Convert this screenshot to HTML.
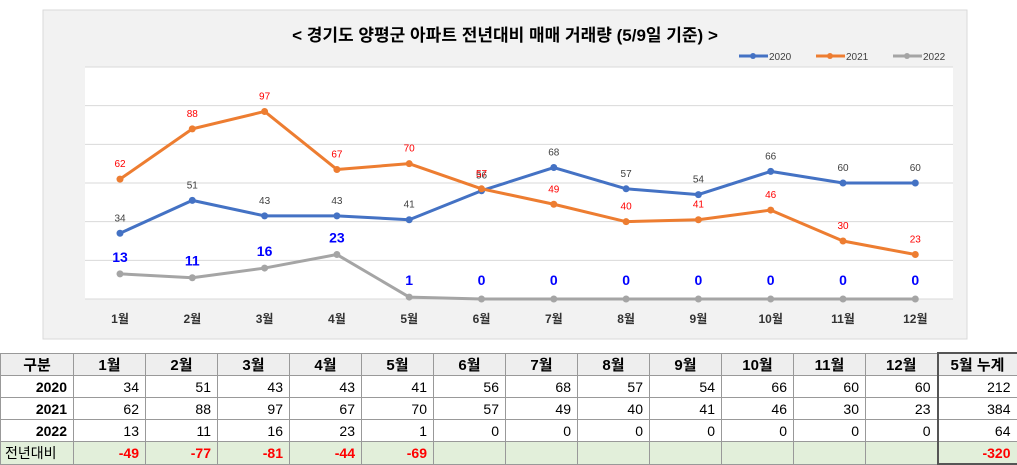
<!DOCTYPE html>
<html><head><meta charset="utf-8"><style>
body{margin:0;width:1017px;height:465px;background:#fff;font-family:"Liberation Sans","Noto Sans CJK KR",sans-serif;position:relative;overflow:hidden}
#chart{position:absolute;left:0;top:0}
table{position:absolute;left:0;top:352px;border-collapse:collapse;font-size:14px;table-layout:fixed;width:1017px}
td{border:1px solid #999;height:21px;padding:0 6px 0 0;text-align:right;overflow:hidden;white-space:nowrap}
tr.h td{background:#eee;font-weight:bold;text-align:center;padding:0;font-size:15px}
td.l{font-weight:bold}
tr.d td{background:#e2efda;color:#f00;font-weight:bold}
tr.d td.l{color:#000;font-weight:normal;text-align:left;padding-left:4px}
td.s{border-left:2px solid #555;border-right:2px solid #555}
tr.d td.s{border-bottom:2px solid #555}
tr.h td.s{border-top:2px solid #555}
</style></head><body>
<svg id="chart" width="1017" height="350"></svg>
<table id="tbl"><colgroup><col style="width:73px"><col style="width:72px"><col style="width:72px"><col style="width:72px"><col style="width:72px"><col style="width:72px"><col style="width:72px"><col style="width:72px"><col style="width:72px"><col style="width:72px"><col style="width:72px"><col style="width:72px"><col style="width:72px"><col style="width:80px"></colgroup></table>
<script>
const months=["1월","2월","3월","4월","5월","6월","7월","8월","9월","10월","11월","12월"];
const s2020=[34,51,43,43,41,56,68,57,54,66,60,60];
const s2021=[62,88,97,67,70,57,49,40,41,46,30,23];
const s2022=[13,11,16,23,1,0,0,0,0,0,0,0];
const diff=[-49,-77,-81,-44,-69];
const totals=[212,384,64,-320];
const yTicks=[0,20,40,60,80,100,120];
const NS="http://www.w3.org/2000/svg";
const svg=document.getElementById('chart');
function x(i){return 120+i*72.3}
function y(v){return 299-v*(232/120)}
function mk(t,a,p){const e=document.createElementNS(NS,t);for(const k in a)e.setAttribute(k,a[k]);(p||svg).appendChild(e);return e}
let bg=mk('rect',{x:43,y:10,width:924,height:329,fill:'#f2f2f2',stroke:'#d9d9d9'});

let pa=mk('rect',{x:85,y:67,width:868,height:232,fill:'#fff'});

yTicks.forEach(v=>{let g=mk('line',{x1:85,x2:953,y1:y(v),y2:y(v),stroke:'#d9d9d9','stroke-width':1});
});
let tt=mk('text',{x:505,y:41,'text-anchor':'middle','font-size':17,'font-weight':'bold',fill:'#000'});
tt.textContent='< 경기도 양평군  아파트 전년대비 매매 거래량 (5/9일 기준) >';

months.forEach((m,i)=>{let t=mk('text',{x:x(i),y:323,'text-anchor':'middle','font-size':12,'font-weight':'bold',fill:'#333'});t.textContent=m;
});
const series=[[s2020,'#4472c4','2020',739],[s2021,'#ed7d31','2021',816],[s2022,'#a5a5a5','2022',893]];
series.forEach(([d,c,n,lx],si)=>{
 let p=mk('polyline',{points:d.map((v,i)=>x(i)+','+y(v)).join(' '),fill:'none',stroke:c,'stroke-width':3,'stroke-linejoin':'round'});
 
 d.forEach((v,i)=>{let m=mk('circle',{cx:x(i),cy:y(v),r:3.5,fill:c});
  
  let lbl;
  if(si==2){lbl=mk('text',{x:x(i),y:y(v)-12,'text-anchor':'middle','font-size':14,'font-weight':'bold',fill:'#0000ff'});
   if(v===0)lbl.setAttribute('y',y(v)-14);}
  else lbl=mk('text',{x:x(i),y:y(v)-12,'text-anchor':'middle','font-size':10,fill:si==0?'#404040':'#ff0000'});
  lbl.textContent=v;});
 let ll=mk('line',{x1:lx,x2:lx+29,y1:56,y2:56,stroke:c,'stroke-width':3});
 
 let lc=mk('circle',{cx:lx+14,cy:56,r:3,fill:c});
 let lt=mk('text',{x:lx+30,y:60,'font-size':10,fill:'#404040'});lt.textContent=n;
 
});
const tbl=document.getElementById('tbl');
function row(cls,cells,name){const tr=document.createElement('tr');if(cls)tr.className=cls;
 
 cells.forEach((c,i)=>{const td=document.createElement('td');td.textContent=c;if(i==0)td.className='l';if(i==13)td.className='s';
  tr.appendChild(td);});tbl.appendChild(tr);}
row('h',['구분',...months,'5월 누계'],'header-row');
tbl.lastChild.firstChild.className='';
row('',['2020',...s2020,totals[0]],'row-2020');
row('',['2021',...s2021,totals[1]],'row-2021');
row('',['2022',...s2022,totals[2]],'row-2022');
row('d',['전년대비',...months.map((m,i)=>i<diff.length?diff[i]:''),totals[3]],'row-yoy');
</script>
</body></html>
